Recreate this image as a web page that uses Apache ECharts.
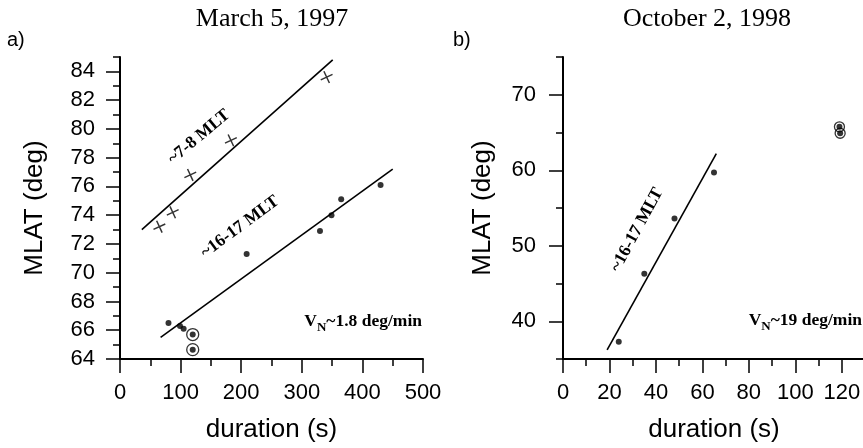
<!DOCTYPE html>
<html>
<head>
<meta charset="utf-8">
<script src="https://cdn.jsdelivr.net/npm/echarts@6/dist/echarts.min.js"></script>
<style>
html,body{margin:0;padding:0;background:#fff;}
#main{width:863px;height:448px;}
</style>
</head>
<body>
<div id="main"></div>
<script>
// panel a: March 5, 1997
var crossA = [[65, 73.2], [87, 74.2], [116, 76.8], [183, 79.2], [341, 83.6]];
var dotsA = [[80, 66.5], [99, 66.3], [105, 66.1], [209, 71.3], [330, 72.9], [349, 74.0], [365, 75.1], [430, 76.1]];
var ringA = [[120, 65.7], [120, 64.65]];
var fitA1 = [[36, 73.0], [351, 84.8]];
var fitA2 = [[67, 65.5], [450, 77.2]];
var xTicksA = [0, 100, 200, 300, 400, 500];
var yTicksA = [64, 66, 68, 70, 72, 74, 76, 78, 80, 82, 84];

// panel b: October 2, 1998
var dotsB = [[24, 37.3], [35, 46.3], [48, 53.6], [65, 59.7]];
var ringB = [[119, 65.75], [119.3, 64.9]];
var fitB = [[19, 36.2], [66, 62.2]];
var xTicksB = [0, 20, 40, 60, 80, 100, 120];
var yTicksB = [40, 50, 60, 70];

var sans = '"Liberation Sans", Arial, sans-serif';
var serif = '"Liberation Serif", "Times New Roman", serif';

var chart = echarts.init(document.getElementById('main'));

function major(gi, pos, min, max, ticks, margin, name, gap) {
	return {
		type: 'value', gridIndex: gi, position: pos, min: min, max: max,
		name: name, nameLocation: 'middle', nameGap: gap,
		nameRotate: pos == 'left' ? 90 : 0,
		nameTextStyle: {fontSize: 26, fontFamily: sans, color: '#000'},
		axisLine: {show: true, onZero: false, lineStyle: {color: '#000', width: 2}},
		axisTick: {show: true, length: 14, customValues: ticks, lineStyle: {color: '#000', width: 1.5}},
		axisLabel: {customValues: ticks, margin: margin, fontSize: 22, fontFamily: sans, color: '#000'},
		splitLine: {show: false}
	};
}
function minor(gi, pos, min, max, step) {
	return {
		type: 'value', gridIndex: gi, position: pos, min: min, max: max, interval: step,
		axisLine: {show: false},
		axisTick: {show: true, length: 7, lineStyle: {color: '#000', width: 1.5}},
		axisLabel: {show: false},
		splitLine: {show: false}
	};
}

var dotStyle = {color: '#000'};
var ringStyle = {color: 'rgba(0,0,0,0)', borderColor: '#000', borderWidth: 1.3};
var lineStyle = {color: '#000', width: 1.6};

function txt(s, x, y, font, deg, align) {
	return {
		type: 'text', x: x, y: y, rotation: (deg || 0) * Math.PI / 180,
		style: {text: s, font: font, fill: '#000', align: align || 'center', verticalAlign: 'middle'}
	};
}
function vn(speed, x, y) {
	return {
		type: 'text', x: x, y: y,
		style: {
			text: '{v|V}{n|N}{v|~' + speed + ' deg/min}',
			align: 'right', verticalAlign: 'middle',
			rich: {
				v: {fontSize: 17.5, fontWeight: 'bold', fontFamily: serif, color: '#000'},
				n: {fontSize: 13, fontWeight: 'bold', fontFamily: serif, color: '#000', padding: [14, 0, 0, 0]}
			}
		}
	};
}

var option = {
	animation: false,
	backgroundColor: '#fff',
	grid: [
		{left: 120, top: 57, width: 303, height: 302, outerBoundsMode: 'none'},
		{left: 563, top: 57, width: 302, height: 302, outerBoundsMode: 'none'}
	],
	xAxis: [
		major(0, 'bottom', 0, 500, xTicksA, 23, 'duration (s)', 58),
		minor(0, 'bottom', 0, 500, 50),
		major(1, 'bottom', 0, 130, xTicksB, 23, 'duration (s)', 58),
		minor(1, 'bottom', 0, 130, 10)
	],
	yAxis: [
		major(0, 'left', 64, 85, yTicksA, 25, 'MLAT (deg)', 72),
		minor(0, 'left', 64, 85, 1),
		major(1, 'left', 35, 75, yTicksB, 27, 'MLAT (deg)', 67),
		minor(1, 'left', 35, 75, 5)
	],
	series: [
		{type: 'line', xAxisIndex: 0, yAxisIndex: 0, data: fitA1, symbol: 'none', lineStyle: lineStyle},
		{type: 'line', xAxisIndex: 0, yAxisIndex: 0, data: fitA2, symbol: 'none', lineStyle: lineStyle},
		{type: 'scatter', xAxisIndex: 0, yAxisIndex: 0, data: crossA, symbol: 'path://M0,5L10,5M5,0L5,10',
			symbolSize: 13, symbolRotate: 25, itemStyle: {color: 'rgba(0,0,0,0)', borderColor: '#000', borderWidth: 1.5}},
		{type: 'scatter', xAxisIndex: 0, yAxisIndex: 0, data: ringA, symbol: 'circle', symbolSize: 12, itemStyle: ringStyle},
		{type: 'scatter', xAxisIndex: 0, yAxisIndex: 0, data: dotsA, symbol: 'circle', symbolSize: 6, itemStyle: dotStyle},
		{type: 'scatter', xAxisIndex: 0, yAxisIndex: 0, data: ringA, symbol: 'circle', symbolSize: 6, itemStyle: dotStyle},

		{type: 'line', xAxisIndex: 2, yAxisIndex: 2, data: fitB, symbol: 'none', lineStyle: lineStyle},
		{type: 'scatter', xAxisIndex: 2, yAxisIndex: 2, data: ringB, symbol: 'circle', symbolSize: 10, itemStyle: ringStyle},
		{type: 'scatter', xAxisIndex: 2, yAxisIndex: 2, data: dotsB, symbol: 'circle', symbolSize: 6, itemStyle: dotStyle},
		{type: 'scatter', xAxisIndex: 2, yAxisIndex: 2, data: ringB, symbol: 'circle', symbolSize: 6, itemStyle: dotStyle}
	],
	graphic: [
		txt('March 5, 1997', 272, 19, '26px ' + serif),
		txt('October 2, 1998', 707, 19, '26px ' + serif),
		txt('a)', 7, 40, '20px ' + sans, 0, 'left'),
		txt('b)', 453, 40, '20px ' + sans, 0, 'left'),
		txt('~7-8 MLT', 199, 137, 'bold 17.5px ' + serif, 40),
		txt('~16-17 MLT', 240, 227, 'bold 17.5px ' + serif, 36.5),
		txt('~16-17 MLT', 637, 230, 'bold 17.5px ' + serif, 61.5),
		vn('1.8', 422, 321),
		vn('19', 862, 320)
	]
};

chart.setOption(option);
</script>
</body>
</html>
